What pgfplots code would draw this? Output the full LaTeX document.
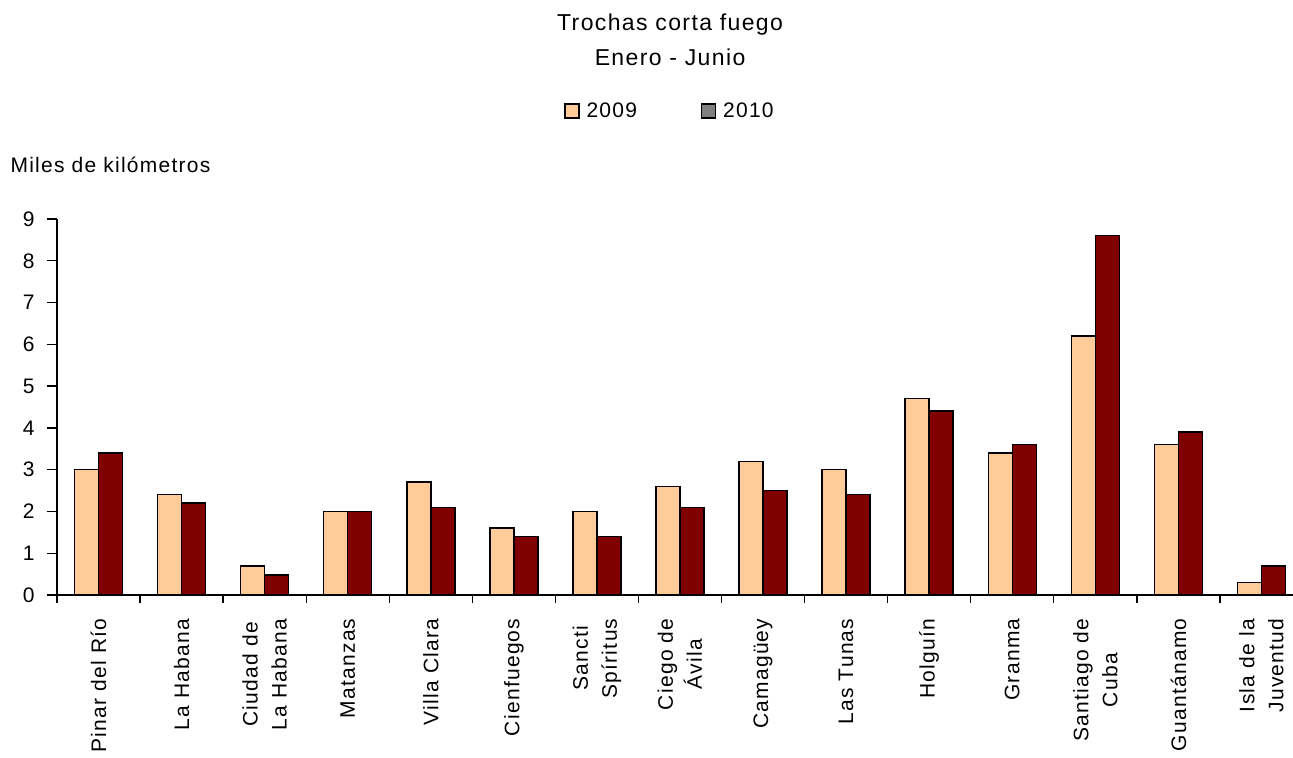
\documentclass[border=0pt]{standalone}
\usepackage{pgfplots}
\pgfplotsset{compat=1.18}
\usepackage{pgfplotstable}
\usepackage{fontspec}
\setmainfont{Liberation Sans}[LetterSpace=6]
\definecolor{c09}{HTML}{FFCC99}
\definecolor{c10}{HTML}{800000}
\newcommand{\tf}{\fontsize{21}{29}\selectfont}
\newcommand{\ttl}{\fontsize{23}{35}\selectfont}
\pgfplotstableread{
x y09 y10
0 3.0 3.4
1 2.4 2.2
2 0.7 0.48
3 2.0 2.0
4 2.7 2.1
5 1.6 1.4
6 2.0 1.4
7 2.6 2.1
8 3.2 2.5
9 3.0 2.4
10 4.7 4.4
11 3.4 3.6
12 6.2 8.6
13 3.6 3.9
14 0.3 0.7
}\data
\begin{document}
\begin{tikzpicture}
\begin{axis}[
  name=ax,
  scale only axis,
  width=1236pt, height=376pt,
  xmin=-0.5, xmax=14.38, ymin=0, ymax=9,
  enlargelimits=false,
  axis lines*=left,
  axis line style={line width=1.3pt},
  bar width=24pt,
  xtick={0,...,14},
  xticklabels={Pinar del Río, La Habana, {Ciudad de\\La Habana}, Matanzas, Villa Clara, Cienfuegos, {Sancti\\Spíritus}, {Ciego de\\Ávila}, Camagüey, Las Tunas, Holguín, Granma, {Santiago de\\Cuba}, Guantánamo, {Isla de la\\Juventud}},
  minor xtick={-0.5,0.5,...,13.5},
  major x tick style={draw=none},
  minor tick length=8pt,
  minor x tick style={line width=1.3pt, black},
  ytick={0,...,9},
  major y tick style={line width=1.3pt, black},
  major tick length=10pt,
  tick align=outside,
  /pgf/number format/assume math mode=true,
  yticklabel style={font=\tf, xshift=-9pt},
  xticklabel style={font=\tf, yshift=-10pt, rotate=90, anchor=east, align=center},
  title={Trochas corta fuego\\Enero - Junio},
  title style={font=\ttl, align=center, at={(0.496,1)}, anchor=base, yshift=148pt},
  legend columns=2,
  legend style={draw=none, font=\tf, at={(0.496,1)}, anchor=center, yshift=108pt,
    /tikz/every odd column/.append style={column sep=5pt},
    /tikz/every even column/.append style={column sep=62pt}},
  legend image code/.code={\draw[#1, line width=1.1pt] (0pt,-7pt) rectangle (14pt,7pt);},
]
\addlegendimage{fill=c09, draw=black}
\addlegendentry{2009}
\addlegendimage{fill=gray, draw=black}
\addlegendentry{2010}
\addplot[ybar, bar shift=-12pt, fill=c09, draw=black, line width=1.5pt, forget plot] table[x=x, y=y09] {\data};
\addplot[ybar, bar shift=12pt, fill=c10, draw=black, line width=1.5pt, forget plot] table[x=x, y=y10] {\data};
\end{axis}
\node[anchor=base west, font=\tf] at ([shift={(-50pt,47pt)}]ax.north west) {Miles de kilómetros};
\pgfresetboundingbox
\path ([shift={(-57pt,-162pt)}]ax.south west) rectangle ([shift={(0pt,219pt)}]ax.north east);
\end{tikzpicture}
\end{document}
